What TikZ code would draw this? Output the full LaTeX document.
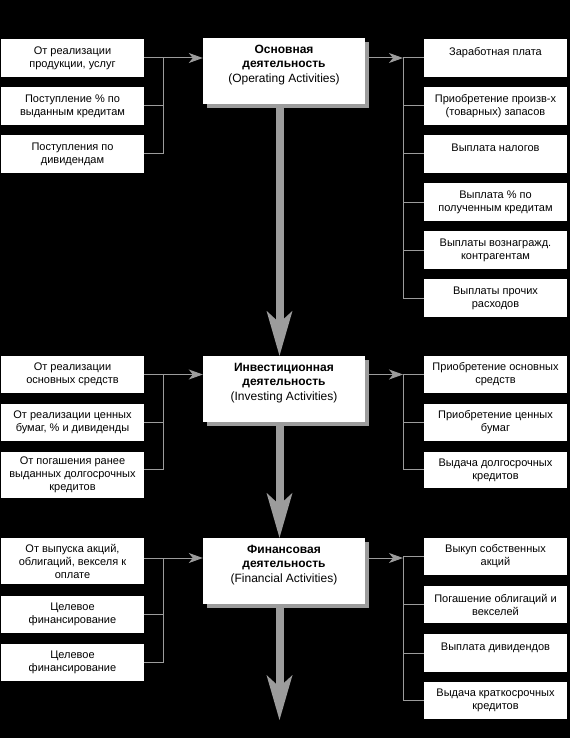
\documentclass[tikz,border=0pt]{standalone}
\usepackage{fontspec}
\setmainfont{Liberation Sans}
\usetikzlibrary{arrows.meta,shadows}
\definecolor{conn}{HTML}{9C9C9C}
\begin{document}
\begin{tikzpicture}[x=1pt,y=-1pt,
 sidebox/.style={rectangle, fill=white, inner sep=0pt, minimum width=143pt, minimum height=38pt, align=center, font=\fontsize{11}{13}\selectfont},
 mainbox/.style={rectangle, fill=white, inner sep=0pt, minimum width=162pt, minimum height=66pt, align=center, font=\fontsize{12}{14.5}\selectfont, copy shadow={shadow xshift=4pt, shadow yshift=-4pt, fill=conn, draw=none}},
 link/.style={draw=conn, line width=1pt},
 sidearrow/.style={link, -{Stealth[length=14pt,width=10pt,inset=4pt]}},
 bigarrow/.style={draw=conn, line width=8pt, -{Stealth[length=45pt,width=26pt,inset=12pt,line width=0pt]}},
]
\fill[black] (0,0) rectangle (570,738);
\useasboundingbox (0,0) rectangle (570,738);

% ---------- Section 1 ----------
\node[mainbox] (op) at (284,71) {\textbf{Основная}\\\textbf{деятельность}\\(Operating Activities)\\\mbox{}};
\node[sidebox] (in1a) at (72.5,58) {От реализации\\продукции, услуг};
\node[sidebox] (in1b) at (72.5,106) {Поступление \% по\\выданным кредитам};
\node[sidebox] (in1c) at (72.5,154) {Поступления по\\дивидендам};
\node[sidebox] (out1a) at (495.5,58) {Заработная плата\\\mbox{}};
\node[sidebox] (out1b) at (495.5,106) {Приобретение произв-х\\(товарных) запасов};
\node[sidebox] (out1c) at (495.5,154) {Выплата налогов\\\mbox{}};
\node[sidebox] (out1d) at (495.5,202) {Выплата \% по\\полученным кредитам};
\node[sidebox] (out1e) at (495.5,250) {Выплаты вознагражд.\\контрагентам};
\node[sidebox] (out1f) at (495.5,298) {Выплаты прочих\\расходов};
\coordinate (lb1) at (163,58);
\coordinate (rb1) at (403,58);
\draw[link] (in1a.east) -- (lb1);
\draw[link] (in1b.east) -- (in1b.east -| lb1);
\draw[link] (in1c.east) -- (in1c.east -| lb1) -- (lb1);
\draw[sidearrow] (lb1) -- (lb1 -| op.west);
\draw[sidearrow] (op.east |- rb1) -- (rb1);
\draw[link] (rb1) -- (out1a.west);
\draw[link] (out1b.west -| rb1) -- (out1b.west);
\draw[link] (out1c.west -| rb1) -- (out1c.west);
\draw[link] (out1d.west -| rb1) -- (out1d.west);
\draw[link] (out1e.west -| rb1) -- (out1e.west);
\draw[link] (rb1) -- (out1f.west -| rb1) -- (out1f.west);

% ---------- Section 2 ----------
\node[mainbox] (inv) at (284,389) {\textbf{Инвестиционная}\\\textbf{деятельность}\\(Investing Activities)\\\mbox{}};
\node[sidebox, minimum height=37pt] (in2a) at (72.5,374.5) {От реализации\\основных средств};
\node[sidebox, minimum height=37pt] (in2b) at (72.5,422.5) {От реализации ценных\\бумаг, \% и дивиденды};
\node[sidebox, minimum height=46pt] (in2c) at (72.5,475) {От погашения ранее\\выданных долгосрочных\\кредитов};
\node[sidebox, minimum height=37pt] (out2a) at (495.5,374.5) {Приобретение основных\\средств};
\node[sidebox, minimum height=37pt] (out2b) at (495.5,422.5) {Приобретение ценных\\бумаг};
\node[sidebox, minimum height=36pt] (out2c) at (495.5,470) {Выдача долгосрочных\\кредитов};
\coordinate (lb2) at (163,374.5);
\coordinate (rb2) at (403,374.5);
\draw[link] (in2a.east) -- (lb2);
\draw[link] (in2b.east) -- (in2b.east -| lb2);
\draw[link] ([yshift=6pt]in2c.east) -- ([yshift=6pt]in2c.east -| lb2) -- (lb2);
\draw[sidearrow] (lb2) -- (lb2 -| inv.west);
\draw[sidearrow] (inv.east |- rb2) -- (rb2);
\draw[link] (rb2) -- (out2a.west);
\draw[link] (out2b.west -| rb2) -- (out2b.west);
\draw[link] (rb2) -- ([yshift=1pt]out2c.west -| rb2) -- ([yshift=1pt]out2c.west);

% ---------- Section 3 ----------
\node[mainbox] (fin) at (284,571) {\textbf{Финансовая}\\\textbf{деятельность}\\(Financial Activities)\\\mbox{}};
\node[sidebox, minimum height=46pt] (in3a) at (72.5,561) {От выпуска акций,\\облигаций, векселя к\\оплате};
\node[sidebox, minimum height=37pt] (in3b) at (72.5,614.5) {Целевое\\финансирование};
\node[sidebox, minimum height=37pt] (in3c) at (72.5,662.5) {Целевое\\финансирование};
\node[sidebox, minimum height=37pt] (out3a) at (495.5,556.5) {Выкуп собственных\\акций};
\node[sidebox, minimum height=37pt] (out3b) at (495.5,604.5) {Погашение облигаций и\\векселей};
\node[sidebox, minimum height=38pt] (out3c) at (495.5,653) {Выплата дивидендов\\\mbox{}};
\node[sidebox, minimum height=37pt] (out3d) at (495.5,700.5) {Выдача краткосрочных\\кредитов};
\coordinate (lb3) at (163,558);
\coordinate (rb3) at (403,558);
\draw[link] ([yshift=3pt]in3a.east) -- (lb3);
\draw[link] (in3b.east) -- (in3b.east -| lb3);
\draw[link] (in3c.east) -- (in3c.east -| lb3) -- (lb3);
\draw[sidearrow] (lb3) -- (lb3 -| fin.west);
\draw[sidearrow] (fin.east |- rb3) -- (rb3);
\draw[link] (rb3) -- (out3a.west -| rb3) -- (out3a.west);
\draw[link] (out3b.west -| rb3) -- (out3b.west);
\draw[link] (out3c.west -| rb3) -- (out3c.west);
\draw[link] (rb3) -- (out3d.west -| rb3) -- (out3d.west);

% ---------- Big flow arrows ----------
\coordinate (flowend) at (279.5,720);
\draw[bigarrow] ([xshift=-4.5pt]op.south) -- ([xshift=-4.5pt]inv.north);
\draw[bigarrow] ([xshift=-4.5pt]inv.south) -- ([xshift=-4.5pt]fin.north);
\draw[bigarrow] ([xshift=-4.5pt]fin.south) -- (flowend);
\end{tikzpicture}
\end{document}
